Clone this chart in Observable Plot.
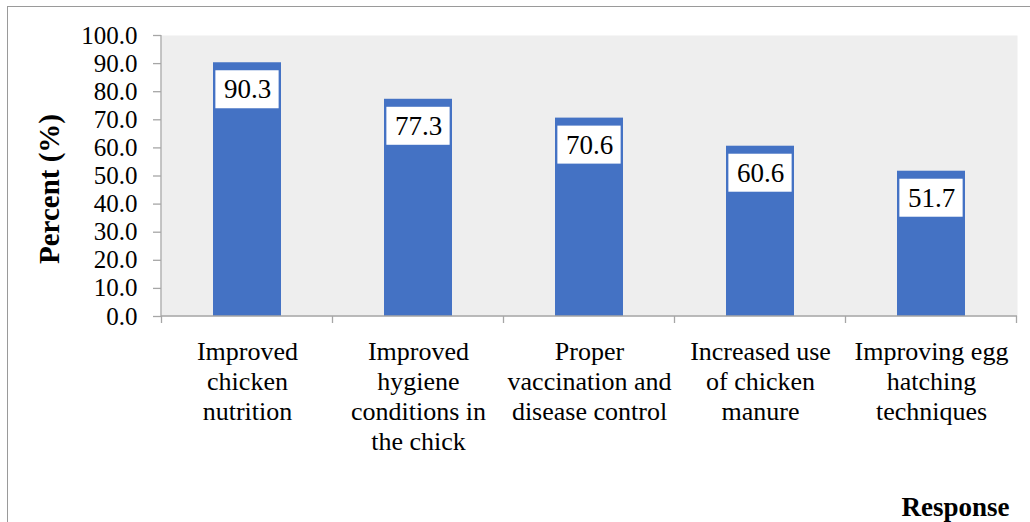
<!DOCTYPE html>
<html>
<head>
<meta charset="utf-8">
<script src="https://cdn.jsdelivr.net/npm/d3@7"></script>
<script src="https://cdn.jsdelivr.net/npm/@observablehq/plot@0.6"></script>
<style>
  html, body { margin: 0; padding: 0; background: #fff; }
  #wrap { position: relative; width: 1030px; height: 522px; overflow: hidden; }
  #wrap svg { position: absolute; left: 0; top: 0; }
  #border { position: absolute; left: 7px; top: 6px; width: 1040px; height: 540px;
            border: 1.5px solid #9a9a9a; box-sizing: border-box; pointer-events: none; }
</style>
</head>
<body>
<div id="wrap"><div id="border"></div></div>
<script>
// Survey responses: suggested improvements for poultry production
const categories = [
  "Improved\nchicken\nnutrition",
  "Improved\nhygiene\nconditions in\nthe chick",
  "Proper\nvaccination and\ndisease control",
  "Increased use\nof chicken\nmanure",
  "Improving egg\nhatching\ntechniques"
];
const percents = [90.3, 77.3, 70.6, 60.6, 51.7];
const yTicks = [0, 10, 20, 30, 40, 50, 60, 70, 80, 90, 100];
const yTitle = "Percent (%)";
const xTitle = "Response";

const data = categories.map((category, i) => ({category, percent: percents[i]}));

const serifFace = "Liberation Serif";
const axisGray = "#a6a6a6";
const barBlue = "#4472C4";
const labelSize = 27;   // value label font size
const labelOffset = 27; // label centre below the bar top, px

// Axis lines plus tick marks on the category boundaries
function categoryFrame(index, scales, values, dimensions) {
  const {width, height, marginLeft, marginRight, marginTop, marginBottom} = dimensions;
  const x = scales.x;
  const bw = x.bandwidth();
  const gap = (x.step() - bw) / 2;
  const bounds = categories.map(c => x(c) - gap);
  bounds.push(x(categories[categories.length - 1]) + bw + gap);
  const y0 = height - marginBottom;
  const g = d3.create("svg:g").attr("stroke", axisGray).attr("stroke-width", 1.3);
  g.append("line").attr("x1", marginLeft).attr("x2", marginLeft)
    .attr("y1", marginTop).attr("y2", y0);
  g.append("line").attr("x1", marginLeft).attr("x2", width - marginRight)
    .attr("y1", y0).attr("y2", y0);
  g.selectAll("line.b").data(bounds).join("line").attr("class", "b")
    .attr("x1", d => d).attr("x2", d => d)
    .attr("y1", y0).attr("y2", y0 + 7);
  return g.node();
}

// White boxes behind the value labels (Times digits are 0.5em, the point 0.25em)
function labelBoxes(index, scales) {
  const x = scales.x, y = scales.y;
  const bw = x.bandwidth();
  const g = d3.create("svg:g").attr("fill", "#fff");
  g.selectAll("rect").data(data).join("rect")
    .each(function(d) {
      const s = d.percent.toFixed(1);
      const em = [...s].reduce((a, ch) => a + (ch === "." ? 0.25 : 0.5), 0);
      const w = em * labelSize + 16;
      const h = 38;
      const cx = x(d.category) + bw / 2;
      const cy = y(d.percent) + labelOffset;
      d3.select(this).attr("x", cx - w / 2).attr("y", cy - h / 2)
        .attr("width", w).attr("height", h);
    });
  return g.node();
}

const chart = Plot.plot({
  width: 1030,
  height: 522,
  marginLeft: 161,
  marginRight: 13,
  marginTop: 35,
  marginBottom: 206,
  style: {fontFamily: serifFace, color: "#000", background: "transparent"},
  x: {domain: categories, paddingInner: 0.6, paddingOuter: 0.3, label: null},
  y: {domain: [0, 100], label: null},
  marks: [
    Plot.frame({fill: "#eeeeee", stroke: "none"}),
    Plot.barY(data, {x: "category", y: "percent", fill: barBlue}),
    categoryFrame,
    Plot.axisY({
      ticks: yTicks, tickFormat: d => d.toFixed(1), tickSize: 8, tickPadding: 16,
      stroke: axisGray, strokeWidth: 1.3, fontSize: 25, fontFamily: serifFace, label: null
    }),
    Plot.axisX({
      tickSize: 0, tickPadding: 22, fontSize: 26, lineHeight: 1.154, fontFamily: serifFace, label: null
    }),
    labelBoxes,
    Plot.text(data, {
      x: "category", y: "percent", text: d => d.percent.toFixed(1),
      dy: labelOffset, lineAnchor: "middle", fontSize: labelSize, fontFamily: serifFace, fill: "#000"
    }),
    Plot.text([yTitle], {
      frameAnchor: "left", dx: -103, dy: 13, rotate: -90,
      textAnchor: "middle", lineAnchor: "bottom",
      fontSize: 29, fontWeight: "bold", fontFamily: serifFace, fill: "#000"
    }),
    Plot.text([xTitle], {
      frameAnchor: "bottom-right", dx: -8, dy: 199, textAnchor: "end", lineAnchor: "bottom",
      fontSize: 27, fontWeight: "bold", fontFamily: serifFace, fill: "#000"
    })
  ]
});

document.getElementById("wrap").prepend(chart);
</script>
</body>
</html>
